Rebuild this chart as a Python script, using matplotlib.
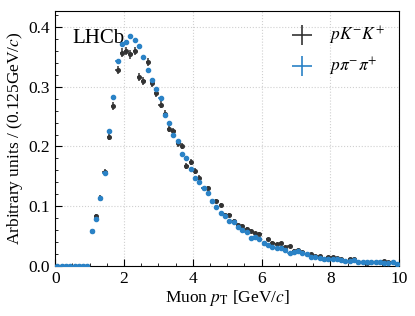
import numpy as np
import matplotlib
matplotlib.use("Agg")
import matplotlib.pyplot as plt
from matplotlib.lines import Line2D
from matplotlib.ticker import MultipleLocator

plt.rcParams['font.family'] = ['Liberation Serif', 'DejaVu Serif']
plt.rcParams['mathtext.fontset'] = 'stix'

###########################################################################
# Data: normalised muon pT spectra, bins of 0.125 GeV/c from 0 to 10
###########################################################################
bin_width = 0.125
bin_centres = np.arange(0, 10, bin_width) + bin_width / 2

pkk = [0, 0, 0, 0, 0, 0, 0, 0,
       0.058, 0.084, 0.114, 0.158, 0.216, 0.268, 0.328, 0.357,
       0.360, 0.354, 0.360, 0.316, 0.309, 0.341, 0.306, 0.290,
       0.270, 0.255, 0.230, 0.226, 0.205, 0.201, 0.167, 0.174,
       0.159, 0.147, 0.130, 0.130, 0.109, 0.109, 0.102, 0.085,
       0.085, 0.076, 0.069, 0.067, 0.062, 0.059, 0.055, 0.054,
       0.039, 0.045, 0.039, 0.037, 0.038, 0.032, 0.033, 0.026,
       0.027, 0.023, 0.021, 0.020, 0.017, 0.017, 0.012, 0.016,
       0.015, 0.014, 0.012, 0.009, 0.012, 0.011, 0.007, 0.006,
       0.005, 0.007, 0.006, 0.007, 0.008, 0.007, 0.007, 0.004]

ppipi = [0, 0, 0, 0, 0, 0, 0, 0,
         0.059, 0.078, 0.114, 0.155, 0.226, 0.282, 0.343, 0.372,
         0.375, 0.384, 0.378, 0.368, 0.349, 0.328, 0.312, 0.296,
         0.281, 0.252, 0.240, 0.220, 0.209, 0.187, 0.180, 0.163,
         0.147, 0.141, 0.130, 0.123, 0.108, 0.099, 0.088, 0.084,
         0.075, 0.074, 0.065, 0.060, 0.057, 0.047, 0.049, 0.045,
         0.039, 0.036, 0.032, 0.031, 0.030, 0.027, 0.022, 0.023,
         0.026, 0.022, 0.020, 0.016, 0.016, 0.013, 0.011, 0.012,
         0.011, 0.011, 0.010, 0.008, 0.009, 0.010, 0.007, 0.006,
         0.006, 0.006, 0.006, 0.006, 0.005, 0.005, 0.006, 0.003]

# effective sample sizes used for the Poisson-like error bars
n_eff_pkk = 7000.
n_eff_ppipi = 60000.

pkk = np.array(pkk)
ppipi = np.array(ppipi)
err_pkk = np.sqrt(pkk / n_eff_pkk)
err_ppipi = np.sqrt(ppipi / n_eff_ppipi)

labels = [r'$pK^{-}K^{+}$', r'$p\pi^{-}\pi^{+}$']
col_pkk = '#333333'
col_ppipi = '#2a82c6'

###########################################################################
# Plot
###########################################################################
fig = plt.figure(figsize=(4.15, 3.16), dpi=100)
ax = fig.add_axes([0.133, 0.158, 0.829, 0.808])

ax.errorbar(bin_centres, pkk, xerr=bin_width / 2, yerr=err_pkk, fmt='o',
            color=col_pkk, markersize=2.6, elinewidth=1.1, capsize=0, zorder=3)
ax.errorbar(bin_centres, ppipi, xerr=bin_width / 2, yerr=err_ppipi, fmt='o',
            color=col_ppipi, markersize=3.0, elinewidth=1.1, capsize=0, zorder=4)

ax.set_xlim(0, 10)
ax.set_ylim(0, 0.427)
ax.xaxis.set_major_locator(MultipleLocator(2))
ax.xaxis.set_minor_locator(MultipleLocator(0.5))
ax.yaxis.set_major_locator(MultipleLocator(0.1))
ax.yaxis.set_minor_locator(MultipleLocator(0.02))
ax.tick_params(which='both', direction='in', labelsize=12.5)
ax.tick_params(which='major', length=5)
ax.tick_params(which='minor', length=2.5)
ax.grid(True, which='major', linestyle=':', color='#d0d0d0', linewidth=0.8)
ax.set_axisbelow(True)

ax.set_xlabel(r'Muon $p_{\mathrm{T}}$ [GeV/$c$]', fontsize=12.5, labelpad=1)
ax.set_ylabel(r'Arbitrary units / (0.125GeV/$c$)', fontsize=12.5, labelpad=3)

ax.text(0.05, 0.93, 'LHCb', transform=ax.transAxes, fontsize=15,
        va='top', ha='left')

handles = [Line2D([], [], color=col_pkk, marker='+', markersize=15,
                  markeredgewidth=1.2, linestyle='none'),
           Line2D([], [], color=col_ppipi, marker='+', markersize=15,
                  markeredgewidth=1.2, linestyle='none')]
ax.legend(handles, labels, loc='upper right', frameon=False, fontsize=12.5,
          handletextpad=0.6, labelspacing=0.5, borderaxespad=0.4)

plt.savefig('out.png', dpi=100)
